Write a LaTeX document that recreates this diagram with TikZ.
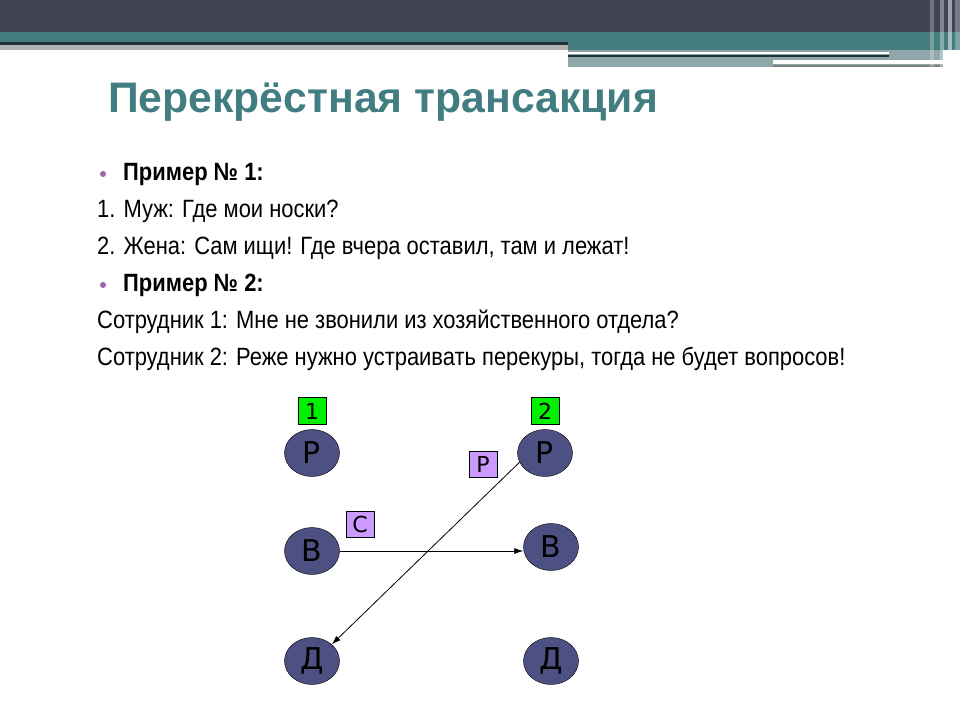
\documentclass[tikz,border=0pt]{standalone}
\usepackage{fontspec}
\setmainfont{Liberation Sans}
\newfontfamily\narrowfont[FakeStretch=0.877]{Liberation Sans}
\newfontfamily\markfont{DejaVu Sans}
\usetikzlibrary{shapes.geometric,arrows.meta}
\definecolor{bardark}{HTML}{424456}
\definecolor{barteal}{HTML}{467E80}
\definecolor{bargrey}{HTML}{8FA7AA}
\definecolor{titleteal}{HTML}{427D82}
\definecolor{bulletpurple}{HTML}{A063AC}
\definecolor{egoblue}{HTML}{4D5082}
\definecolor{numgreen}{HTML}{00F000}
\definecolor{taglilac}{HTML}{CC99FF}
\begin{document}
\begin{tikzpicture}[x=1pt,y=-1pt,
  ego/.style={ellipse,draw=black,fill=egoblue,minimum width=55pt,minimum height=47pt,inner sep=0pt,font=\markfont\fontsize{30}{30}\selectfont},
  numbox/.style={draw=black,fill=numgreen,minimum width=28pt,minimum height=27pt,inner sep=0pt,font=\markfont\fontsize{22}{22}\selectfont},
  tagbox/.style={draw=black,fill=taglilac,minimum width=28pt,minimum height=26pt,inner sep=0pt,font=\markfont\fontsize{22}{22}\selectfont},
  textline/.style={anchor=base west,inner sep=0pt,font=\narrowfont\fontsize{25}{25}\selectfont},
  link/.style={line width=0.8pt,-{Latex[length=9pt,width=6pt]}}]
\useasboundingbox (0,0) rectangle (960,720);
\fill[white] (0,0) rectangle (960,720);

\fill[bardark] (0,0) rectangle (960,32);
\fill[barteal] (0,32) rectangle (960,42);
\fill[black!60!barteal] (0,42) rectangle (568,45);
\fill[gray!60] (0,45) rectangle (568,50);
\fill[barteal] (568,42) rectangle (960,50);
\fill[bargrey] (568,50) rectangle (943,67);
\fill[white] (568,52) rectangle (889,54);
\fill[black!60!barteal] (568,55) rectangle (889,57);
\fill[white] (773,60) rectangle (943,64);
\fill[gray] (773,65) rectangle (943,67);
\fill[white,opacity=0.25] (930,0) rectangle (934,67);
\fill[white,opacity=0.35] (940,0) rectangle (944,67);
\fill[white,opacity=0.5] (948,0) rectangle (952,67);
\fill[white,opacity=0.3] (955,0) rectangle (960,67);

\node[anchor=base west,inner sep=0pt,text=titleteal,font=\bfseries\fontsize{42.7}{43}\selectfont] (title) at (108,112) {Перекрёстная трансакция};

\fill[bulletpurple] (103,174) circle (3);
\node[textline,font=\narrowfont\bfseries\fontsize{25}{25}\selectfont] (ex1) at (123,180) {Пример № 1:};
\node[textline] (l1) at (97,217) {1. Муж: Где мои носки?};
\node[textline] (l2) at (97,254) {2. Жена: Сам ищи! Где вчера оставил, там и лежат!};
\fill[bulletpurple] (103,285) circle (3);
\node[textline,font=\narrowfont\bfseries\fontsize{25}{25}\selectfont] (ex2) at (123,291) {Пример № 2:};
\node[textline] (l3) at (97,328) {Сотрудник 1: Мне не звонили из хозяйственного отдела?};
\node[textline] (l4) at (97,365) {Сотрудник 2: Реже нужно устраивать перекуры, тогда не будет вопросов!};

\node[numbox] (n1) at (312,411) {1};
\node[numbox] (n2) at (545,411) {2};

\node[ego] (lp) at (312,453) {Р};
\node[ego] (lv) at (312,551) {В};
\node[ego] (ld) at (312,661) {Д};
\node[ego] (rp) at (545,453) {Р};
\node[ego] (rv) at (551,547) {В};
\node[ego] (rd) at (551,661) {Д};

\node[tagbox] (tp) at (483,464) {Р};
\node[tagbox] (tc) at (360,524) {С};

\draw[link] (lv.east) -- (lv.east -| rv.west);
\draw[link] (rp.200) -- (ld.40);
\end{tikzpicture}
\end{document}
